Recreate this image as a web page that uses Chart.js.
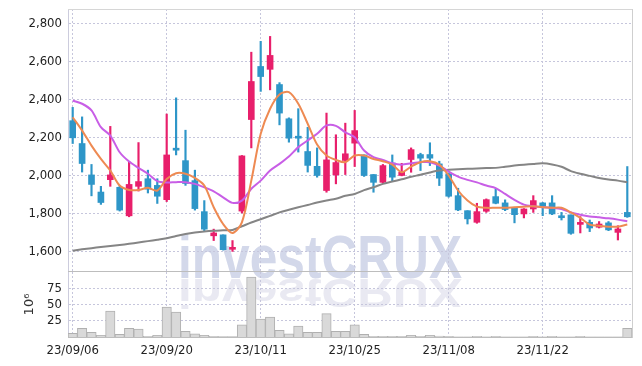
<!DOCTYPE html>
<html><head><meta charset="utf-8">
<script src="https://cdn.jsdelivr.net/npm/chart.js@4.4.0/dist/chart.umd.min.js"></script>
<style>
html,body{margin:0;padding:0;background:#fff;}
#wrap{position:relative;width:642px;height:366px;overflow:hidden;background:#fff;}
canvas{position:absolute;left:0;}
#bg{top:0}
#c1{top:0}
#c2{top:271px}
</style></head><body>
<div id="wrap">
<canvas id="bg" width="642" height="366"></canvas>
<canvas id="c1" width="642" height="272"></canvas>
<canvas id="c2" width="642" height="95"></canvas>
</div>
<script>
const dates = ['23/09/06','23/09/07','23/09/08','23/09/11','23/09/12','23/09/13','23/09/14','23/09/15','23/09/18','23/09/19',
'23/09/20','23/09/21','23/09/22','23/09/25','23/09/26','23/09/27','23/10/04','23/10/05','23/10/06','23/10/10',
'23/10/11','23/10/12','23/10/13','23/10/16','23/10/17','23/10/18','23/10/19','23/10/20','23/10/23','23/10/24',
'23/10/25','23/10/26','23/10/27','23/10/30','23/10/31','23/11/01','23/11/02','23/11/03','23/11/06','23/11/07',
'23/11/08','23/11/09','23/11/10','23/11/13','23/11/14','23/11/15','23/11/16','23/11/17','23/11/20','23/11/21',
'23/11/22','23/11/23','23/11/24','23/11/27','23/11/28','23/11/29','23/11/30','23/12/01','23/12/04','23/12/05'];
const tickDates = ['23/09/06','23/09/20','23/10/11','23/10/25','23/11/08','23/11/22'];
const opens = [2290,2170,2005,1915,1980,1940,1790,1945,1985,1950, 1875,2140,2080,1975,1812,1685,1690,1614,1815,2296,
2575,2560,2480,2300,2202,2128,2050,1923,2005,2081, 2172,2110,2007,1966,2068,2002,2086,2112,2112,2063,
2011,1896,1817,1756,1814,1891,1858,1832,1800,1826, 1858,1858,1785,1795,1745,1756,1730,1753,1703,1808];
const closes = [2200,2065,1955,1860,2005,1820,1955,1970,1930,1893, 2110,2135,1960,1828,1720,1700,1612,1618,2105,2496,
2522,2633,2330,2198,2198,2055,2002,2084,2070,2116, 2238,2002,1966,2054,1993,2019,2138,2093,2093,1988,
1893,1821,1774,1812,1875,1856,1823,1796,1826,1870, 1840,1800,1780,1698,1750,1726,1747,1716,1721,1785];
const highs = [2360,2310,2060,1945,2260,1950,2075,2175,2030,1985, 2325,2410,2240,2030,1870,1720,1690,1660,2107,2650,
2707,2733,2490,2305,2353,2255,2147,2330,2216,2277, 2344,2110,2007,2060,2110,2066,2147,2119,2174,2077,
2016,1935,1817,1856,1879,1932,1874,1835,1828,1896, 1860,1896,1808,1795,1786,1768,1760,1760,1738,2049];
const lows = [2170,2020,1895,1850,1945,1815,1785,1920,1910,1855, 1865,2110,1950,1820,1712,1660,1610,1603,1805,2147,
2444,2452,2268,2177,2125,2020,1993,1914,1958,2007, 2049,1997,1914,1961,1972,2000,2019,2028,2054,1949,
1888,1817,1747,1751,1808,1853,1817,1753,1779,1808, 1791,1796,1768,1693,1700,1707,1726,1712,1663,1782];
const volumes = [5.8,13.5,7.3,2.6,40,4.2,13.5,12,1,2.6, 46,38.5,8.9,4.7,2.6,1,0.5,0.5,18.7,92,
27.6,30.7,10.4,4.7,16.7,7.3,7.3,36,8.9,8.9, 18.7,4.2,1,1,1,1,2.6,1,2.6,1.6,
1,0.3,0.3,1,0.3,1,0.3,0.3,0.3,1, 0.3,1,0.3,0.3,1,0.3,0.3,0.3,0.3,13.5];
const ma5 = [2308,2238,2159,2089,2028,1949,1926,1926,1937,1923, 1984,2014,2011,1989,1949,1835,1747,1700,1756,1975,
2221,2353,2428,2440,2379,2274,2165,2107,2084,2072, 2107,2107,2089,2077,2059,2019,2049,2072,2077,2059,
2002,1923,1870,1838,1832,1832,1832,1835,1838,1840, 1835,1832,1832,1808,1779,1744,1738,1733,1733,1744];
const ma20 = [2396,2379,2344,2256,2212,2124,2075,2042,2011,1972, 1965,1967,1967,1958,1940,1919,1887,1858,1870,1932,
1975,2028,2063,2102,2151,2186,2221,2265,2263,2229, 2203,2133,2098,2084,2066,2059,2066,2072,2072,2054,
2023,1996,1979,1966,1949,1936,1905,1874,1849,1840, 1835,1832,1826,1808,1796,1787,1782,1777,1770,1761];
const ma60 = [1607,1614,1620,1626,1632,1637,1643,1650,1657,1664, 1672,1684,1694,1702,1708,1712,1714,1716,1735,1755,
1772,1790,1808,1822,1835,1847,1860,1871,1880,1895, 1905,1925,1940,1958,1970,1982,1995,2006,2018,2028,
2032,2035,2037,2039,2041,2042,2048,2054,2059,2063, 2066,2060,2048,2025,2011,2000,1989,1981,1975,1966];
const yTicks = [1600,1800,2000,2200,2400,2600,2800];
const volTicks = [25,50,75];

const RED = '#e81f6b', BLUE = '#2e96c8';
const GRID = '#c6c6dc';
const FONT = "'DejaVu Sans Condensed','Liberation Sans',sans-serif";
const FSIZE = 13;
const candleColors = opens.map((o, i) => closes[i] >= o ? RED : BLUE);
const tickIdx = tickDates.map(d => dates.indexOf(d));

// watermark background
(function(){
  const ctx = document.getElementById('bg').getContext('2d');
  ctx.font = "bold 62px 'Liberation Sans',sans-serif";
  ctx.textBaseline = 'alphabetic';
  const w = ctx.measureText('investCRUX').width;
  const sx = 284 / w;
  ctx.save();
  ctx.translate(178, 278);
  ctx.scale(sx, 1);
  ctx.fillStyle = '#d3d8ea';
  ctx.fillText('investCRUX', 0, 0);
  ctx.restore();
  ctx.save();
  ctx.translate(178, 279);
  ctx.scale(sx, -0.67);
  ctx.fillStyle = '#e9e9f2';
  ctx.fillText('investCRUX', 0, 0);
  ctx.restore();
})();

function framePlugin(sides){
  return { id:'frame'+sides.join(''), beforeDatasetsDraw(chart){
    const a = chart.chartArea, ctx = chart.ctx;
    ctx.save(); ctx.lineWidth = 1;
    if (sides.includes('t')) { ctx.strokeStyle = '#d6d6d6'; ctx.beginPath(); ctx.moveTo(a.left, a.top+0.5); ctx.lineTo(a.right, a.top+0.5); ctx.stroke(); }
    if (sides.includes('r')) { ctx.strokeStyle = '#cfcfcf'; ctx.beginPath(); ctx.moveTo(a.right+0.5, a.top); ctx.lineTo(a.right+0.5, a.bottom+1); ctx.stroke(); }
    if (sides.includes('b')) { ctx.strokeStyle = '#bdbdbd'; ctx.beginPath(); ctx.moveTo(a.left, a.bottom+0.5); ctx.lineTo(a.right, a.bottom+0.5); ctx.stroke(); }
    ctx.restore();
  }};
}

function filterX(scale){ scale.ticks = tickIdx.map(i => ({value:i})); }
function fitY(s){ s.width = 68; s.paddingTop = 0; s.paddingBottom = 0; }

new Chart(document.getElementById('c1'), {
  type:'bar',
  data:{ labels: dates, datasets:[
    {type:'line', data: ma5, borderColor:'#ee8a52', borderWidth:2, pointRadius:0, tension:0.3, order:0},
    {type:'line', data: ma20, borderColor:'#c85ee6', borderWidth:2, pointRadius:0, tension:0.3, order:0},
    {type:'line', data: ma60, borderColor:'#858585', borderWidth:2, pointRadius:0, tension:0.3, order:0},
    {data: opens.map((o,i)=>[o, closes[i]]), backgroundColor: candleColors, barThickness:6, grouped:false, minBarLength:2, order:1},
    {data: lows.map((l,i)=>[l, highs[i]]), backgroundColor: candleColors, barThickness:1.5, grouped:false, order:2}
  ]},
  options:{
    responsive:false, animation:false,
    plugins:{legend:{display:false}, tooltip:{enabled:false}},
    layout:{padding:{top:9,right:10,bottom:1,left:0}},
    scales:{
      x:{ offset:true, afterBuildTicks: filterX, afterFit: s => { s.height = 0; s.paddingLeft = 0; s.paddingRight = 0; },
          ticks:{display:false}, grid:{offset:false, drawTicks:false, color:GRID}, border:{display:false, dash:[2,2]} },
      y:{ min:1500, max:2877, afterBuildTicks: s => { s.ticks = yTicks.map(v => ({value:v})); },
          afterFit: fitY,
          ticks:{font:{family:FONT, size:FSIZE}, color:'#222', padding:6, callback: v => v.toLocaleString('en-US')},
          grid:{drawTicks:false, color:GRID}, border:{display:true, color:'#ccccdd', dash:[2,2]} }
    }
  },
  plugins:[framePlugin(['t','r','b'])]
});

new Chart(document.getElementById('c2'), {
  type:'bar',
  data:{ labels: dates, datasets:[
    {data: volumes, backgroundColor:'#d9d9d9', borderColor:'#b0b0b0', borderWidth:1, barPercentage:1, categoryPercentage:1}
  ]},
  options:{
    responsive:false, animation:false,
    plugins:{legend:{display:false}, tooltip:{enabled:false}},
    layout:{padding:{top:1,right:10,bottom:0,left:0}},
    scales:{
      x:{ offset:true, afterBuildTicks: filterX, afterFit: s => { s.height = 29; s.paddingLeft = 0; s.paddingRight = 0; },
          ticks:{font:{family:FONT, size:FSIZE}, color:'#222', padding:6, maxRotation:0, autoSkip:false, callback: v => dates[v]},
          grid:{offset:false, drawTicks:false, color:GRID}, border:{display:false, dash:[2,2]} },
      y:{ min:0, max:100, afterBuildTicks: s => { s.ticks = volTicks.map(v => ({value:v})); },
          afterFit: fitY,
          ticks:{font:{family:FONT, size:FSIZE}, color:'#222', padding:6},
          title:{display:true, text:'10⁶', font:{family:"'DejaVu Sans',sans-serif", size:13}, color:'#333', padding:{top:22,bottom:0}},
          grid:{drawTicks:false, color:GRID}, border:{display:true, color:'#ccccdd', dash:[2,2]} }
    }
  },
  plugins:[framePlugin(['r','b'])]
});
</script>
</body></html>
